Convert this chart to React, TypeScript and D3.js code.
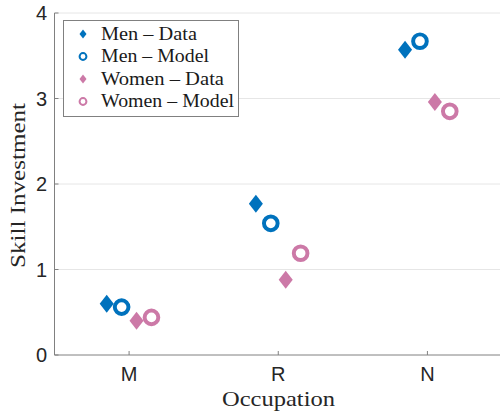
import React from "react";
import * as d3 from "d3";

const occupations = ["M", "R", "N"];
const menData = [0.6, 1.77, 3.57];
const menModel = [0.56, 1.54, 3.67];
const womenData = [0.4, 0.88, 2.96];
const womenModel = [0.44, 1.19, 2.85];
const yTicks = [0, 1, 2, 3, 4];

const BLUE = "#0072BD";
const PINK = "#CC79A7";

const W = 500;
const H = 412;
const left = 54.5;
const right = 502;
const top = 13;
const bottom = 355;

const x = d3.scaleLinear().domain([0.5, 3.5]).range([left, right]);
const y = d3.scaleLinear().domain([0, 4]).range([bottom, top]);

const series = [
  { name: "Men \u2013 Data", values: menData, color: BLUE, shape: "diamond", offset: -0.15, width: 96 },
  { name: "Men \u2013 Model", values: menModel, color: BLUE, shape: "circle", offset: -0.05, width: 108 },
  { name: "Women \u2013 Data", values: womenData, color: PINK, shape: "diamond", offset: 0.05, width: 123 },
  { name: "Women \u2013 Model", values: womenModel, color: PINK, shape: "circle", offset: 0.15, width: 133 },
];

const sans = "'Liberation Sans', Arial, sans-serif";
const serif = "'Liberation Serif', 'DejaVu Serif', serif";

function Marker({ cx, cy, shape, color, size }: { cx: number; cy: number; shape: string; color: string; size: number }) {
  if (shape === "diamond") {
    const h = size / 2;
    const w = size * 0.39;
    return (
      <path
        d={`M${cx},${cy - h}L${cx + w},${cy}L${cx},${cy + h}L${cx - w},${cy}Z`}
        fill={color}
      />
    );
  }
  return (
    <circle cx={cx} cy={cy} r={size * 0.38} fill="white" stroke={color} strokeWidth={size * 0.22} />
  );
}

export default function App() {
  return (
    <svg width={W} height={H} style={{ position: "absolute", left: 0, top: 0, background: "white" }}>
      <defs>
        <clipPath id="plot-clip">
          <rect x={left} y={0} width={W - left} height={bottom + 1} />
        </clipPath>
      </defs>
      {/* horizontal grid */}
      {yTicks.filter((t) => t > 0).map((t) => (
        <line key={t} x1={left} x2={W} y1={y(t)} y2={y(t)} stroke="#e6e6e6" strokeWidth={1} />
      ))}
      {/* axes */}
      <line x1={left} x2={left} y1={top} y2={bottom} stroke="#808080" strokeWidth={1} />
      <line x1={left} x2={W} y1={bottom} y2={bottom} stroke="#808080" strokeWidth={1} />
      {yTicks.map((t) => (
        <g key={t}>
          <line x1={left} x2={left + 4} y1={y(t)} y2={y(t)} stroke="#808080" />
          <text x={left - 7.5} y={y(t) + 7} textAnchor="end" fontFamily={sans} fontSize={20} fill="#262626">
            {t}
          </text>
        </g>
      ))}
      {occupations.map((o, i) => (
        <g key={o}>
          <line x1={x(i + 1)} x2={x(i + 1)} y1={bottom} y2={bottom - 4} stroke="#808080" />
          <text x={x(i + 1)} y={381} textAnchor="middle" fontFamily={sans} fontSize={20} fill="#262626">
            {o}
          </text>
        </g>
      ))}
      <text
        x={278.5}
        y={406}
        textAnchor="middle"
        fontFamily={serif}
        fontSize={22}
        fill="#262626"
        textLength={113}
        lengthAdjust="spacingAndGlyphs"
      >
        Occupation
      </text>
      <text
        transform={`translate(25,185.5) rotate(-90)`}
        textAnchor="middle"
        fontFamily={serif}
        fontSize={22}
        fill="#262626"
        textLength={165}
        lengthAdjust="spacingAndGlyphs"
      >
        Skill Investment
      </text>
      {/* markers */}
      <g clipPath="url(#plot-clip)">
        {series.map((s) =>
          s.values.map((v, i) => (
            <Marker key={s.name + i} cx={x(i + 1 + s.offset)} cy={y(v)} shape={s.shape} color={s.color} size={18} />
          ))
        )}
      </g>
      {/* legend */}
      <g>
        <rect x={63.5} y={20.5} width={175} height={96} fill="white" stroke="#808080" strokeWidth={1} />
        {series.map((s, i) => (
          <g key={s.name}>
            <Marker cx={83} cy={34 + i * 22.5} shape={s.shape} color={s.color} size={9} />
            <text
              x={101}
              y={39.5 + i * 22.5}
              fontFamily={serif}
              fontSize={19}
              fill="#1a1a1a"
              textLength={s.width}
              lengthAdjust="spacingAndGlyphs"
            >
              {s.name}
            </text>
          </g>
        ))}
      </g>
    </svg>
  );
}
